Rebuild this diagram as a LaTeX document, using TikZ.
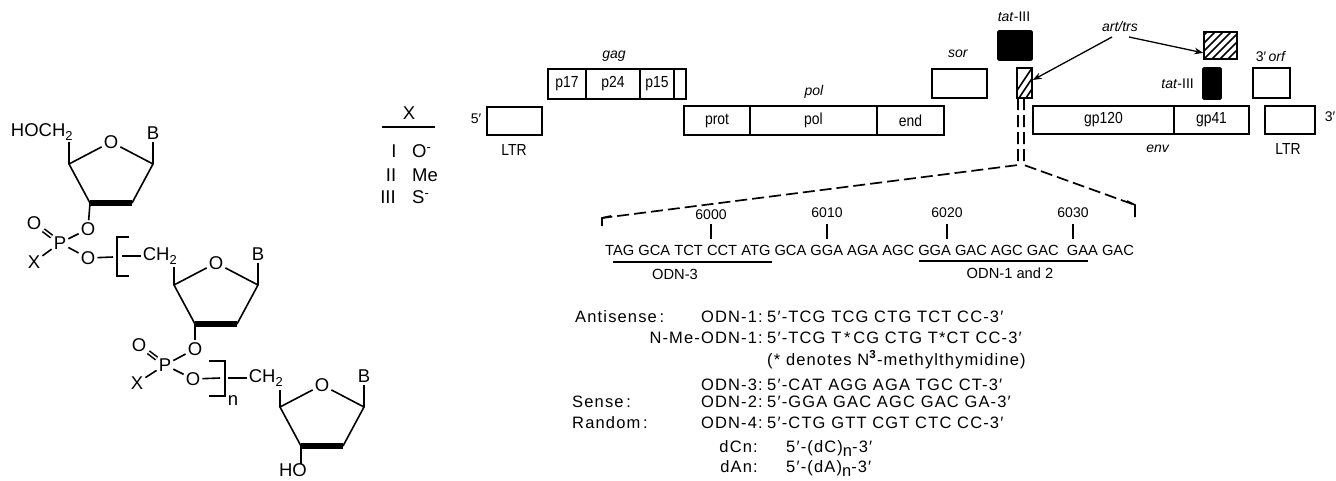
\documentclass[tikz,border=0pt]{standalone}
\usepackage{fontspec}
\setmainfont{Liberation Sans}
\newfontfamily\widefont[LetterSpace=7]{Liberation Sans}
\usetikzlibrary{arrows.meta}

\newcommand{\lown}{\raisebox{-4pt}{n}}
\newcommand{\slim}[1]{\scalebox{0.87}[1]{#1}}

\tikzset{
  every node/.style={inner sep=0pt,font=\fontsize{14}{16}\selectfont},
  genetext/.style={font=\fontsize{16}{18}\selectfont},
  atom/.style={inner sep=2pt,font=\fontsize{18.5}{20}\selectfont},
  bond/.style={line width=1.6pt},
  genebox/.style={draw,line width=1.6pt},
  solidbox/.style={genebox,fill=black,rounded corners=1pt},
  zoomline/.style={line width=1.7pt,dash pattern=on 12pt off 5pt},
  seqtext/.style={font=\widefont\fontsize{16.5}{18}\selectfont,anchor=base west},
}

\begin{document}
\begin{tikzpicture}[>=Stealth,x=1pt,y=-1pt]
  \useasboundingbox (0,0) rectangle (1336,480);

  % three sugar rings, same shape
  \foreach \dx/\dy/\r in {0/0/a,105/121/b,211/243/c} {
    \begin{scope}[shift={(\dx,\dy)}]
      \node[atom] (O\r) at (111,142) {O};
      \coordinate (L\r) at (69,164);
      \coordinate (R\r) at (153,164);
      \coordinate (BL\r) at (90,203);
      \coordinate (BR\r) at (132,203);
      \node[atom] (B\r) at (153,133) {B};
      \draw[bond] (O\r) -- (L\r) -- (BL\r);
      \draw[bond] (O\r) -- (R\r) -- (BR\r);
      \draw[bond] (R\r) -- (B\r);
      \draw[line width=5.5pt] (BL\r) -- (BR\r);
    \end{scope}
  }
  \node[atom] (hoch) at (42,132) {HOCH\textsubscript{2}};
  \draw[bond] (La) -- (69,142);

  % first phosphate
  \node[atom] (Oa1) at (88,229) {O};
  \node[atom] (Pa) at (60,243) {P};
  \node[atom] (Oa2) at (34,223) {O};
  \node[atom] (Xa) at (34,262) {X};
  \node[atom] (Oa3) at (88,258) {O};
  \draw[bond] (BLa) -- (Oa1);
  \draw[bond] (Oa1) -- (Pa);
  \draw[bond] (Pa) -- (Xa);
  \draw[bond] (Pa) -- (Oa3);
  \draw[bond,double,double distance=1.6pt] (Pa) -- (Oa2);
  \draw[bond] (129,237) -- (117,237) -- (117,276) -- (129,276);
  \draw[bond] (Oa3) -- (113,257);
  \node[atom] (chb) at (160,256) {CH\textsubscript{2}};
  \draw[bond] (122,256) -- (chb);
  \draw[bond] (Lb) -- (174,267);

  % second phosphate
  \node[atom] (Ob1) at (195,349) {O};
  \node[atom] (Pb) at (165,365) {P};
  \node[atom] (Ob2) at (139,345) {O};
  \node[atom] (Xb) at (137,383) {X};
  \node[atom] (Ob3) at (193,379) {O};
  \draw[bond] (BLb) -- (Ob1);
  \draw[bond] (Ob1) -- (Pb);
  \draw[bond] (Pb) -- (Xb);
  \draw[bond] (Pb) -- (Ob3);
  \draw[bond,double,double distance=1.6pt] (Pb) -- (Ob2);
  \draw[bond] (209,361) -- (225,361) -- (225,396) -- (209,396);
  \draw[bond] (Ob3) -- (220,378);
  \node[atom] (nidx) at (233,401) {n};
  \node[atom] (chc) at (266,378) {CH\textsubscript{2}};
  \draw[bond] (228,378) -- (chc);
  \draw[bond] (Lc) -- (280,390);
  \node[atom,inner sep=0pt] (ho) at (293,470.5) {HO};
  \draw[bond] (BLc) -- (BLc |- ho.north);

  % table of X
  \node[atom] (xhead) at (409,113) {X};
  \draw[bond] (382,127) -- (435,127);
  \foreach \y/\num/\numx/\lab in {151/I/394/O\textsuperscript{-},175/II/391/Me,197/III/388/S\textsuperscript{-}} {
    \node[atom] (n\num) at (\numx,\y) {\num};
    \node[atom,anchor=west,inner sep=0pt] (x\num) at (412,\y) {\lab};
  }

  % genome map
  \node (fivep) at (476,119) {5′};
  \node[genebox,minimum width=55pt,minimum height=28pt] (ltrl) at (514.5,121) {};
  \node[genetext] (ltrltext) at (514,150) {\slim{LTR}};
  \foreach \nm/\x/\w/\txt in {p17/567/38.5/p17,p24/613/54/p24,p15/657/34/p15,pend/680/12/{}} {
    \node[genebox,genetext,minimum width=\w pt,minimum height=30pt] (\nm) at (\x,84) {\slim{\txt}};
  }
  \node (gagtext) at (614,56) {\textit{gag}};
  \node (poltext) at (814,92) {\textit{pol}};
  \foreach \nm/\x/\w/\txt in {prot/717/65.5/prot,polbox/813.5/127/pol,endbox/910.5/67/end} {
    \node[genebox,genetext,minimum width=\w pt,minimum height=29pt] (\nm) at (\x,120.5) {\slim{\txt}};
  }
  \node[genebox,minimum width=55pt,minimum height=29pt] (sorbox) at (959.5,83.5) {};
  \node (sortext) at (958,54) {\textit{sor}};
  \node (tatltext) at (1014,17) {\textit{tat}-III};
  \node[solidbox,minimum width=34pt,minimum height=29pt] (tatl) at (1015,45.5) {};
  \node[solidbox,minimum width=18pt,minimum height=31pt] (tatr) at (1212,83.5) {};
  \node[genebox,minimum width=15pt,minimum height=30pt] (hatchl) at (1024.5,83) {};
  \node[genebox,minimum width=33pt,minimum height=27pt] (hatchr) at (1220.5,45.5) {};
  % hatching
  \begin{scope}
    \clip (hatchl.south west) rectangle (hatchl.north east);
    \foreach \k in {0,7,...,42} {
      \draw[line width=1.6pt] (1012+\k,98) -- (1012+\k+20,68);
    }
  \end{scope}
  \begin{scope}
    \clip (hatchr.south west) rectangle (hatchr.north east);
    \foreach \k in {0,8,...,64} {
      \draw[line width=1.6pt] (1180+\k,59) -- (1180+\k+27,32);
    }
  \end{scope}
  \node[anchor=east] (tatrtext) at (1194,84) {\textit{tat}-III};
  \node (arttext) at (1120,26) {\textit{art/trs}};
  \coordinate (artl) at (1112,37);
  \coordinate (artr) at (1129,37);
  \draw[->,line width=1.3pt] (artl) -- (hatchl.20);
  \draw[->,line width=1.3pt] (artr) -- (hatchr.203);
  \node (orftext) at (1271,56) {3′\,\textit{orf}};
  \node[genebox,minimum width=37pt,minimum height=30pt] (orfbox) at (1271.5,83) {};
  \foreach \nm/\x/\w/\txt in {gpa/1103.5/141/gp120,gpb/1211.5/75/gp41} {
    \node[genebox,genetext,minimum width=\w pt,minimum height=28pt] (\nm) at (\x,120) {\slim{\txt}};
  }
  \node (envtext) at (1158,149) {\textit{env}};
  \node[genebox,minimum width=50pt,minimum height=28pt] (ltrr) at (1290,120) {};
  \node[genetext] (ltrrtext) at (1288,149) {\slim{LTR}};
  \node (threep) at (1330,117) {3′};

  % dashed zoom lines
  \coordinate (dla) at (1018,98);
  \coordinate (dra) at (1024,98);
  \coordinate (junl) at (1018,165);
  \coordinate (junr) at (1024,165);
  \coordinate (cornl) at (602,218);
  \coordinate (endl) at (602,226);
  \coordinate (stubl) at (611,216);
  \coordinate (cornr) at (1135,205);
  \coordinate (endr) at (1135,217);
  \coordinate (stubr) at (1127,201);
  \draw[zoomline] (dla) -- (junl) -- (cornl);
  \draw[line width=1.7pt] (stubl) -- (cornl) -- (endl);
  \draw[zoomline] (dra) -- (junr) -- (cornr);
  \draw[line width=1.7pt] (stubr) -- (cornr) -- (endr);

  % sequence
  \foreach \x/\lab/\tx in {711/6000/215,827/6010/213,947/6020/213,1073/6030/213} {
    \node (t\lab) at (\x,\tx) {\lab};
    \draw[line width=1.4pt] (\x,224) -- (\x,239);
  }
  \node[font=\fontsize{14.7}{16}\selectfont,anchor=base west] (seq) at (605,255)
    {TAG GCA TCT CCT ATG GCA GGA AGA AGC GGA GAC AGC GAC\hspace{4pt} GAA GAC};
  \draw[line width=1.6pt] (613,262) -- (772,262);
  \draw[line width=1.6pt] (919,261) -- (1088,261);
  \node[font=\fontsize{14.7}{16}\selectfont] (odna) at (675,274) {ODN-3};
  \node[font=\fontsize{14.7}{16}\selectfont] (odnb) at (1010,273) {ODN-1 and 2};

  % oligonucleotides
  \node[seqtext] (anti) at (575,322) {Antisense\,:};
  \node[seqtext] (sens) at (572,407) {Sense\,:};
  \node[seqtext] (rand) at (572,428) {Random\,:};
  \foreach \nm/\y/\lab/\seqx in {
    a/322/ODN-1:/{5′-TCG TCG CTG TCT CC-3′},
    b/343/N-Me-ODN-1:/{5′-TCG T\,*\,CG CTG T*CT CC-3′},
    c/390/ODN-3:/{5′-CAT AGG AGA TGC CT-3′},
    d/407/ODN-2:/{5′-GGA GAC AGC GAC GA-3′},
    e/428/ODN-4:/{5′-CTG GTT CGT CTC CC-3′}} {
    \node[seqtext,anchor=base east] (lab\nm) at (763,\y) {\lab};
    \node[seqtext] (seq\nm) at (767,\y) {\seqx};
  }
  \node[seqtext] (denote) at (767,365) {(* denotes N\textsuperscript{\textbf{3}}-methylthymidine)};
  \node[seqtext,anchor=base east] (labf) at (758,452) {dCn:};
  \node[seqtext] (seqf) at (786,452) {5′-(dC)\lown-3′};
  \node[seqtext,anchor=base east] (labg) at (758,472) {dAn:};
  \node[seqtext] (seqg) at (786,472) {5′-(dA)\lown-3′};
\end{tikzpicture}
\end{document}
